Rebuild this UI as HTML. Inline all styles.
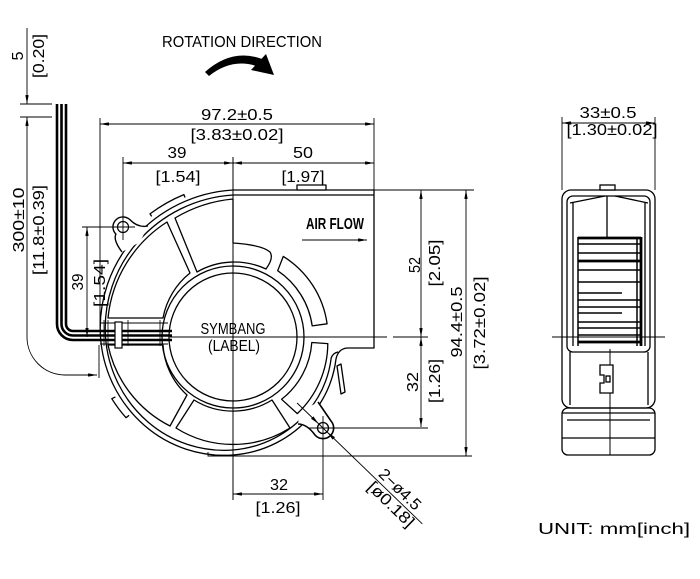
<!DOCTYPE html>
<html><head><meta charset="utf-8"><style>
html,body{margin:0;padding:0;background:#fff;}
svg{display:block}
.t{font-family:"Liberation Sans",sans-serif;font-size:16px;fill:#000}
</style></head><body>
<svg width="700" height="579" viewBox="0 0 700 579" xmlns="http://www.w3.org/2000/svg">
<defs>
<marker id="a" viewBox="0 0 9 3.4" refX="9" refY="1.7" markerWidth="9" markerHeight="3.4" markerUnits="userSpaceOnUse" orient="auto-start-reverse"><path d="M0,0 L9,1.7 L0,3.4 Z" fill="#000"/></marker>
</defs>
<rect width="700" height="579" fill="#fff"/>

<!-- Rotation direction -->
<text class="t" x="162" y="47" font-size="15" textLength="160" lengthAdjust="spacingAndGlyphs">ROTATION  DIRECTION</text>
<path d="M205,72 Q232,48 262,59 L259,67 Q233,57 209,76 Z" fill="#000"/>
<polygon points="266,54 274,75 251,70" fill="#000"/>

<!-- thin dimension / extension lines -->
<g stroke="#000" stroke-width="0.9" fill="none">
  <path d="M20,104 H52 M20,117 H52"/>
  <path d="M100,118 V330 M374,118 V190 M123,157 V240 M233,157 V500"/>
  <path d="M374,190 H474"/>
  <path d="M170,337 H387 M393,337 H428"/>
  <path d="M338,428 H428"/>
  <path d="M208,452 V456 H472"/>
  <path d="M323,438 V500"/>
  <path d="M82,227 H135"/>
  <path d="M99,345 V378"/>
  <path d="M562,117 V190 M655,117 V190 M552,337 H665"/>
  <path d="M27,28 V104" marker-end="url(#a)"/>
  <path d="M27,140 V117" marker-end="url(#a)"/>
  <path d="M27,140 V337 A38 38 0 0 0 65,375 H97" marker-end="url(#a)"/>
  <path d="M100,124 H374" marker-start="url(#a)" marker-end="url(#a)"/>
  <path d="M123,163 H233" marker-start="url(#a)" marker-end="url(#a)"/>
  <path d="M233,163 H374" marker-start="url(#a)" marker-end="url(#a)"/>
  <path d="M562,123 H655" marker-start="url(#a)" marker-end="url(#a)"/>
  <path d="M421,190 V337" marker-start="url(#a)" marker-end="url(#a)"/>
  <path d="M421,337 V427" marker-start="url(#a)" marker-end="url(#a)"/>
  <path d="M466,190 V456" marker-start="url(#a)" marker-end="url(#a)"/>
  <path d="M233,494 H323" marker-start="url(#a)" marker-end="url(#a)"/>
  <path d="M87,227 V337" marker-start="url(#a)" marker-end="url(#a)"/>
  <path d="M302,240 H367" marker-end="url(#a)"/>
</g>

<!-- Fan housing -->
<g stroke="#000" stroke-width="1.3" fill="none" stroke-linejoin="round">
  <path d="M233,190 L374,190 L374,348 L347,348 Q338,349 336,359 A108 108 0 0 1 311.3,415.3 A114 114 0 0 1 233,455 A121.6 121.6 0 0 1 144.5,425.5 A129 129 0 0 1 100.5,337 A136 136 0 0 1 134.2,238.2 A143 143 0 0 1 233,190"/>
  <path d="M338,352 Q333,353 331.2,357.9 A103 103 0 0 1 307.7,411.7 A109 109 0 0 1 233,450 A116.6 116.6 0 0 1 148,422 A124 124 0 0 1 105.5,337 A131 131 0 0 1 137.8,241.8 A138 138 0 0 1 233,195 L374,195"/>
  <rect x="297" y="185" width="29" height="5" fill="#fff"/>
  <path d="M151.7,216.4 L150,213.9 A149 149 0 0 1 183.9,194.6 L185,197.5"/>
  <path d="M129.1,415.3 L126,417.7 A135 135 0 0 1 111.8,398.7 L115.4,396.9"/>
  <path d="M337,366 L341,364 L345,392 L341,394 Z"/>
  <circle cx="233" cy="337" r="64"/>
  <circle cx="233" cy="337" r="71"/>
  <path d="M190,273 L167,222 A129 129 0 0 0 108,318 L163,318 A75 75 0 0 1 190,273 Z"/>
  <path d="M197,272 L175,218 A138 138 0 0 1 233,199 L233,243 Q262,245 270,252 Q274,258 266,269 A75 75 0 0 0 197,272 Z"/>
  <path d="M283.3,256.4 A95 95 0 0 1 327.1,323.8 L312.2,325.9 A80 80 0 0 0 277.7,270.7 Z"/>
  <path d="M327.8,343.6 A97 97 0 0 1 297.3,413.6 L281.6,399.3 A79 79 0 0 0 311.8,342.5 Z"/>
  <path d="M272,400 L290,428 A107 107 0 0 1 176,428 L194,400 A74 74 0 0 0 272,400 Z"/>
  <path d="M163,345 A73 73 0 0 0 187,395 L170,426 A118 118 0 0 1 108,345 Z"/>
  <path d="M100,323 H168 M100,344 H168" stroke-width="0.9"/>
</g>

<!-- wires -->
<g fill="none" stroke="#000" stroke-width="2.6">
  <path d="M57,104 V324 A16 16 0 0 0 73,340 H172"/>
  <path d="M61.5,104 V324 A11.5 11.5 0 0 0 73,335.5 H172"/>
  <path d="M66,104 V324 A7 7 0 0 0 73,331 H172"/>
</g>
<rect x="115" y="322" width="7" height="26" fill="#fff" stroke="#000" stroke-width="1.2"/>
<path d="M104,320 V346 M108,320 V346 M128,320 V346 M160,320 V346" stroke="#000" stroke-width="0.8"/>

<!-- lugs -->
<path d="M122,252 Q113,240 115.9,234.1 A10 10 0 0 1 130.1,219.9 Q138,228 148,226 L140,242 Z" fill="#fff"/>
<path d="M122,252 Q113,240 115.9,234.1 A10 10 0 0 1 130.1,219.9 Q138,228 148,226" fill="none" stroke="#000" stroke-width="1.4"/>
<circle cx="123" cy="227" r="5.5" fill="none" stroke="#000" stroke-width="1.2"/>
<path d="M318,402 L331,421 A10 10 0 0 1 315,435 Q307,424 298,424 L300,412 Z" fill="#fff"/>
<path d="M318,402 L331,421 A10 10 0 0 1 315,435 Q307,424 298,424" fill="none" stroke="#000" stroke-width="1.6"/>
<circle cx="323" cy="428" r="5.5" fill="none" stroke="#000" stroke-width="1.3"/>
<path d="M123,215 V240 M111,227 H135 M323,416 V440 M309,428 H340" stroke="#000" stroke-width="0.9"/>
<path d="M233,157 V500" stroke="#000" stroke-width="0.9"/>

<!-- leader for holes -->
<g transform="translate(323,428) rotate(44)">
  <path d="M-36,0 H138" stroke="#000" stroke-width="0.9"/>
  <polygon points="-6,0 -15,-1.7 -15,1.7" fill="#000"/>
  <polygon points="6,0 15,-1.7 15,1.7" fill="#000"/>
  <text class="t" x="98" y="-4" font-size="16" text-anchor="middle" textLength="52" lengthAdjust="spacingAndGlyphs">2−ø4.5</text>
  <text class="t" x="102" y="13" font-size="16" text-anchor="middle" textLength="58" lengthAdjust="spacingAndGlyphs">[ø0.18]</text>
</g>

<!-- texts -->
<text class="t" x="237" y="120" text-anchor="middle" textLength="72" lengthAdjust="spacingAndGlyphs">97.2±0.5</text>
<text class="t" x="237" y="140" text-anchor="middle" textLength="93" lengthAdjust="spacingAndGlyphs">[3.83±0.02]</text>
<text class="t" x="177" y="158" text-anchor="middle" textLength="19" lengthAdjust="spacingAndGlyphs">39</text>
<text class="t" x="178" y="182" text-anchor="middle" textLength="45" lengthAdjust="spacingAndGlyphs">[1.54]</text>
<text class="t" x="303" y="158" text-anchor="middle" textLength="20" lengthAdjust="spacingAndGlyphs">50</text>
<text class="t" x="303" y="182" text-anchor="middle" textLength="43" lengthAdjust="spacingAndGlyphs">[1.97]</text>
<text class="t" x="608" y="118" font-size="15" text-anchor="middle" textLength="57" lengthAdjust="spacingAndGlyphs">33±0.5</text>
<text class="t" x="612" y="135" font-size="15" text-anchor="middle" textLength="91" lengthAdjust="spacingAndGlyphs">[1.30±0.02]</text>
<text class="t" x="279" y="490" text-anchor="middle" textLength="18" lengthAdjust="spacingAndGlyphs">32</text>
<text class="t" x="278" y="513" text-anchor="middle" textLength="45" lengthAdjust="spacingAndGlyphs">[1.26]</text>
<text class="t" x="306" y="229" font-size="13" font-weight="bold" textLength="58" lengthAdjust="spacingAndGlyphs">AIR FLOW</text>
<text class="t" x="233" y="334" font-size="14" text-anchor="middle" textLength="65" lengthAdjust="spacingAndGlyphs">SYMBANG</text>
<text class="t" x="234" y="351" font-size="14" text-anchor="middle" textLength="52" lengthAdjust="spacingAndGlyphs">(LABEL)</text>
<text class="t" x="538" y="534" font-size="19" textLength="152" lengthAdjust="spacingAndGlyphs">UNIT: mm[inch]</text>

<text class="t" transform="translate(23,56) rotate(-90)" text-anchor="middle" textLength="9" lengthAdjust="spacingAndGlyphs">5</text>
<text class="t" transform="translate(44,56) rotate(-90)" text-anchor="middle" textLength="44" lengthAdjust="spacingAndGlyphs">[0.20]</text>
<text class="t" transform="translate(24,220) rotate(-90)" text-anchor="middle" textLength="65" lengthAdjust="spacingAndGlyphs">300±10</text>
<text class="t" transform="translate(44,230) rotate(-90)" text-anchor="middle" textLength="90" lengthAdjust="spacingAndGlyphs">[11.8±0.39]</text>
<text class="t" transform="translate(83,282) rotate(-90)" text-anchor="middle" textLength="17" lengthAdjust="spacingAndGlyphs">39</text>
<text class="t" transform="translate(105,283) rotate(-90)" text-anchor="middle" textLength="48" lengthAdjust="spacingAndGlyphs">[1.54]</text>
<text class="t" transform="translate(420,265) rotate(-90)" text-anchor="middle" textLength="16" lengthAdjust="spacingAndGlyphs">52</text>
<text class="t" transform="translate(440,263) rotate(-90)" text-anchor="middle" textLength="47" lengthAdjust="spacingAndGlyphs">[2.05]</text>
<text class="t" transform="translate(462,322) rotate(-90)" text-anchor="middle" textLength="71" lengthAdjust="spacingAndGlyphs">94.4±0.5</text>
<text class="t" transform="translate(485,323) rotate(-90)" text-anchor="middle" textLength="93" lengthAdjust="spacingAndGlyphs">[3.72±0.02]</text>
<text class="t" transform="translate(418,382) rotate(-90)" text-anchor="middle" textLength="20" lengthAdjust="spacingAndGlyphs">32</text>
<text class="t" transform="translate(440,381) rotate(-90)" text-anchor="middle" textLength="44" lengthAdjust="spacingAndGlyphs">[1.26]</text>

<!-- Side view -->
<g stroke="#000" stroke-width="1.3" fill="none">
  <rect x="562" y="190" width="93" height="218" rx="9"/>
  <rect x="562" y="408" width="93" height="47" rx="6"/>
  <rect x="567" y="196" width="83" height="156" rx="6"/>
  <path d="M573,203 V346 M645,203 V346"/>
  <path d="M570,203 L605,196 M615,196 L648,203"/>
  <path d="M607,196 V237"/>
  <rect x="600" y="185" width="15" height="5" fill="#fff"/>
  <path d="M570,352 V405 M648,352 V405"/>
  <path d="M562,413 H655 M567,420 H650 M562,438 H655"/>
  <path d="M610,349 V455" stroke-width="1"/>
  <path d="M600,365 H613 V393 H600 V383 H604 V375 H600 Z" fill="#fff"/>
  <rect x="606" y="376" width="4" height="6"/>
  <path d="M578,237 V346 M637,237 V346" stroke-width="1.5"/>
  <path d="M641,237 V346" stroke-width="2.8"/>
  <path d="M578,244 H641 M578,253 H641 M578,270 H641 M578,282 H641 M578,293 H622 M578,300 H641 M578,307 H641 M578,313 H622 M578,322 H641 M578,328 H641 M578,335 H641" stroke-width="1.6"/>
  <path d="M578,238 H641 M578,261 H641 M578,342 H641" stroke-width="2.8"/>
</g>
</svg>
</body></html>
